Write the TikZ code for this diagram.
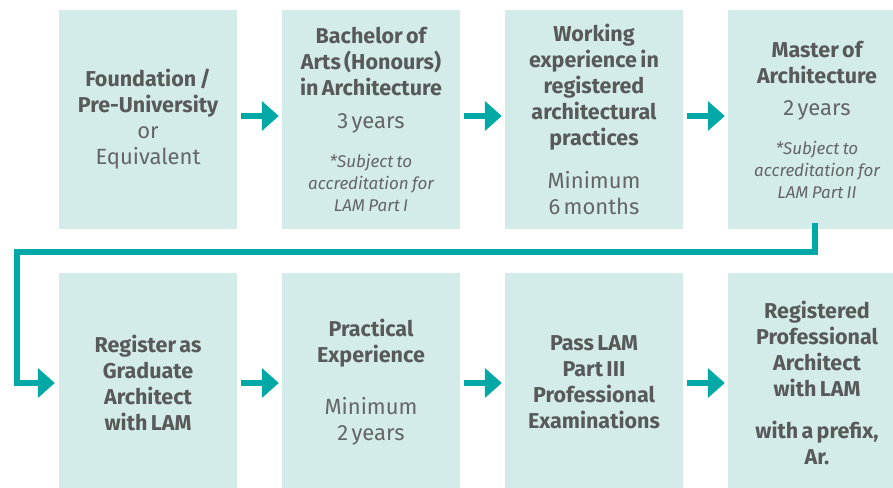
\documentclass[tikz,border=0pt]{standalone}
\usepackage{fontspec}
\setmainfont{Fira Sans}
\usetikzlibrary{arrows.meta}
\definecolor{boxfill}{HTML}{D3ECE9}
\definecolor{teal}{HTML}{00A9A5}
\definecolor{txtbold}{HTML}{58595B}
\definecolor{txtreg}{HTML}{646567}
\newcommand{\hd}[1]{{\bfseries\fontsize{21.5}{26}\selectfont\color{txtbold}#1\par}}
\newcommand{\rg}[1]{{\fontsize{22}{26}\selectfont\color{txtreg}#1\par}}
\newcommand{\nt}[1]{{\itshape\fontsize{17}{22}\selectfont\color{txtreg}#1\par}}
\tikzset{
  stage/.style={fill=boxfill, draw=none, minimum width=178pt, minimum height=219pt,
    text width=176pt, align=center, inner sep=0pt},
  flow/.style={draw=teal, line width=6pt, -{Triangle[length=17pt,width=29pt]}}
}
\begin{document}
\begin{tikzpicture}[x=1pt,y=-1pt]
\useasboundingbox (0,0) rectangle (893,487);
\clip (0,0) rectangle (893,487);
\node[stage] (b1) at (148,119.5) {\hd{Foundation /\\Pre-University}\rg{or\\Equivalent}};
\node[stage] (b2) at (371,119.5) {\hd{Bachelor of\\Arts (Honours)\\in Architecture}\vspace{7pt}\rg{3 years}\vspace{17pt}\nt{*Subject to\\accreditation for\\LAM Part I}};
\node[stage] (b3) at (594,119.5) {\hd{Working\\experience in\\registered\\architectural\\practices}\vspace{17pt}\rg{Minimum\\6 months}};
\node[stage] (b4) at (817,119.5) {\hd{Master of\\Architecture}\vspace{6pt}\rg{2 years}\vspace{17pt}\nt{*Subject to\\accreditation for\\LAM Part II}};
\node[stage] (b5) at (148,382.5) {\hd{Register as\\Graduate\\Architect\\with LAM}};
\node[stage] (b6) at (371,382.5) {\hd{Practical\\Experience}\vspace{26pt}\rg{Minimum\\2 years}};
\node[stage] (b7) at (594,382.5) {\hd{Pass LAM\\Part III\\Professional\\Examinations}};
\node[stage] (b8) at (817,382.5) {\hd{Registered\\Professional\\Architect\\with LAM}\vspace{16pt}\hd{with a prefix,\\Ar.}};
\coordinate (turn) at (17,252);
\draw[flow] ([xshift=4pt,yshift=3.5pt]b1.east) -- ([xshift=-3pt,yshift=3.5pt]b2.west);
\draw[flow] ([xshift=4pt,yshift=3.5pt]b2.east) -- ([xshift=-3pt,yshift=3.5pt]b3.west);
\draw[flow] ([xshift=4pt,yshift=3.5pt]b3.east) -- ([xshift=-3pt,yshift=3.5pt]b4.west);
\draw[flow] ([xshift=-2pt,yshift=6pt]b4.south) |- (turn) |- ([xshift=-4pt,yshift=-0.5pt]b5.west);
\draw[flow] ([xshift=4pt,yshift=-0.5pt]b5.east) -- ([xshift=-3pt,yshift=-0.5pt]b6.west);
\draw[flow] ([xshift=4pt,yshift=-0.5pt]b6.east) -- ([xshift=-3pt,yshift=-0.5pt]b7.west);
\draw[flow] ([xshift=4pt,yshift=-0.5pt]b7.east) -- ([xshift=-3pt,yshift=-0.5pt]b8.west);
\end{tikzpicture}
\end{document}
